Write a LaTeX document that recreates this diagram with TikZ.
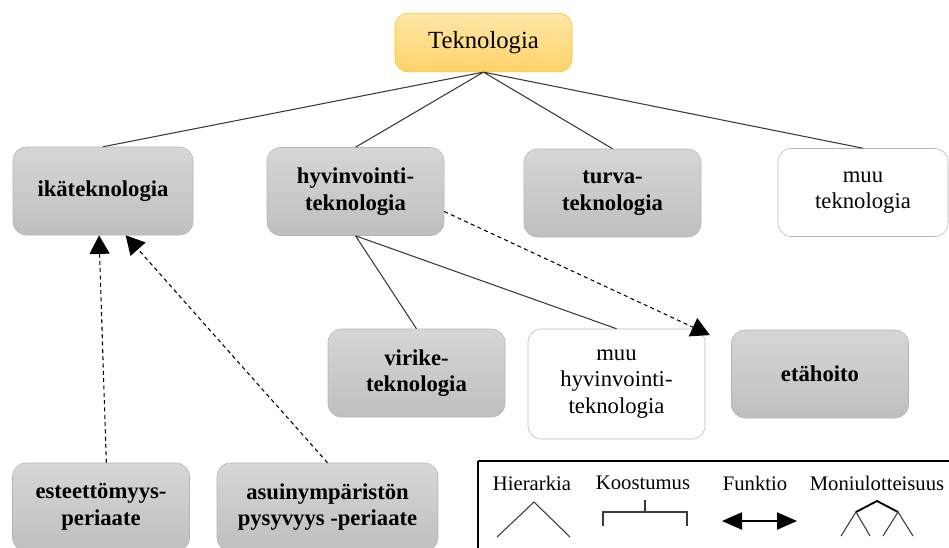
\documentclass[tikz,border=0pt]{standalone}
\usepackage{fontspec}
\setmainfont{Liberation Serif}
\usetikzlibrary{arrows.meta}
\definecolor{harmaa1}{HTML}{D6D6D6}
\definecolor{harmaa2}{HTML}{BFBFBF}
\definecolor{reuna}{HTML}{B5B5B5}
\definecolor{oranssi1}{HTML}{FFE7A8}
\definecolor{oranssi2}{HTML}{FFD269}
\definecolor{oranssireuna}{HTML}{F7BE1E}
\definecolor{viiva}{HTML}{3A3A3A}
\tikzset{
	laatikko/.style={rounded corners=10pt, align=center, inner sep=0pt,
		minimum width=132.75pt, minimum height=66pt, font=\fontsize{17}{20}\selectfont},
	harmaa/.style={laatikko, draw=reuna, top color=harmaa1, bottom color=harmaa2, font=\fontsize{17}{20}\selectfont\bfseries},
	valkoinen/.style={laatikko, draw=reuna, fill=white},
	hier/.style={draw=viiva, line width=0.8pt},
	katko/.style={draw=black, line width=0.8pt, dash pattern=on 3pt off 2.5pt, -{Triangle[length=14pt,width=15pt]}},
	selite/.style={font=\fontsize{15.5}{17}\selectfont, inner sep=0pt}
}
\begin{document}
\begin{tikzpicture}[x=0.75pt,y=-0.75pt]
	\useasboundingbox (0,0) rectangle (949,547);
	\clip (0,0) rectangle (949,547);
	% ylin taso
	\node[laatikko, draw=oranssireuna, top color=oranssi1, bottom color=oranssi2, minimum height=44pt, font=\fontsize{18.5}{20}\selectfont] (tek) at (483.5,42.5) {Teknologia};
	% toinen taso
	\node[harmaa, minimum width=135pt] (ika) at (103,191) {ikäteknologia};
	\node[harmaa] (hyv) at (355.5,191.5) {hyvinvointi-\\teknologia};
	\node[harmaa] (turva) at (612.5,193) {turva-\\teknologia};
	\node[valkoinen, minimum width=127.5pt] (muu) at (863,192.5) {muu\\teknologia};
	% kolmas taso
	\node[harmaa] (virike) at (416.5,373) {virike-\\teknologia};
	\node[valkoinen, minimum height=82.5pt] (muuhyv) at (616.5,384) {muu\\hyvinvointi-\\teknologia};
	\node[harmaa] (eta) at (820,374) {etähoito};
	% periaatteet
	\node[harmaa] (este) at (101,507) {esteettömyys-\\periaate};
	\node[harmaa, minimum width=165.75pt] (asuin) at (327.5,507) {asuinympäristön\\pysyvyys -periaate};
	% hierarkiaviivat
	\draw[hier] (tek.south) -- (ika.north) (tek.south) -- (hyv.north) (tek.south) -- (turva.north) (tek.south) -- (muu.north);
	\draw[hier] (hyv.south) -- (virike.north) (hyv.south) -- (muuhyv.north);
	% funktiot
	\draw[katko] ([yshift=-15pt]hyv.east) -- ([xshift=-16pt,yshift=-4pt]eta.north west);
	\draw[katko] ([xshift=4pt]este.north) -- ([xshift=-3pt]ika.south);
	\draw[katko] (asuin.north) -- ([xshift=17pt]ika.south);
	% selite
	\draw[line width=1.1pt] (478,461) -- (960,461) (478,461) -- (478,560);
	\node[selite] (s1) at (532,483) {Hierarkia};
	\node[selite] (s2) at (643,483) {Koostumus};
	\node[selite] (s3) at (755,483) {Funktio};
	\node[selite] (s4) at (877,483) {Moniulotteisuus};
	\draw[hier] (497,537) -- (534,502) -- (570,537); %hierarkia
	\draw[hier] (645,500) -- (645,512) (603,526) -- (603,512) -- (687,512) -- (687,526); %koostumus
	\draw[line width=0.8pt, {Triangle[length=15pt,width=13pt]}-{Triangle[length=15pt,width=13pt]}] (722,521) -- (797,521); %funktio
	\draw[line width=1.4pt] (856,512) -- (877,501) -- (898,512); %moniulotteisuus
	\draw[hier] (841,536) -- (856,512) -- (870,536) (883,536) -- (898,512) -- (913,536);
\end{tikzpicture}
\end{document}
